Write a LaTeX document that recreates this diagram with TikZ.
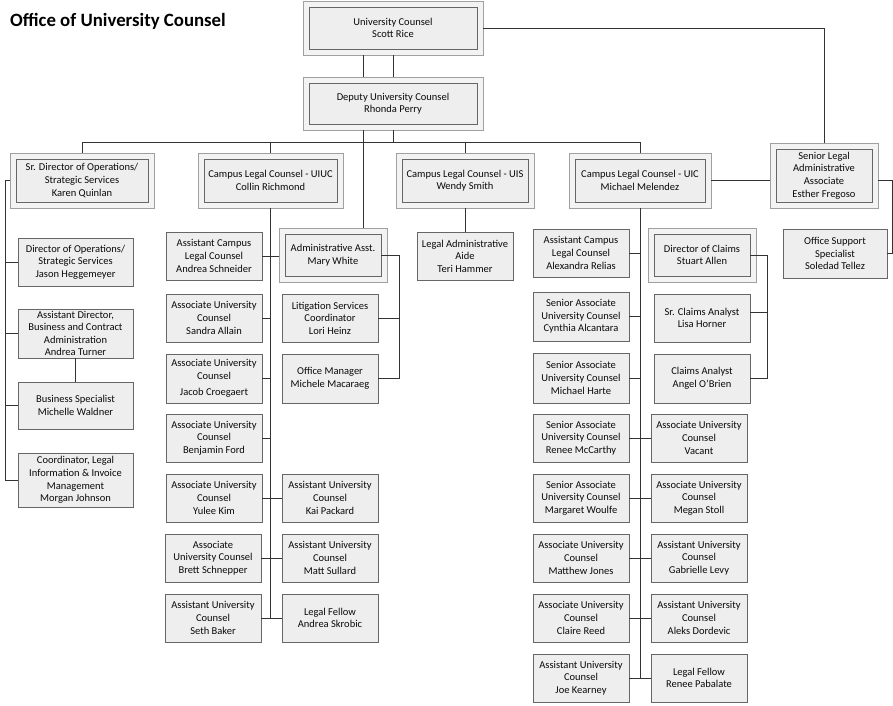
\documentclass[tikz,border=0pt]{standalone}
\usepackage{fontspec}
\setmainfont{Carlito}
\usetikzlibrary{shadows}
\definecolor{lnc}{HTML}{333333}
\definecolor{bxd}{HTML}{666666}
\definecolor{bxf}{HTML}{EEEEEE}
\definecolor{frd}{HTML}{A0A0A0}
\definecolor{frf}{HTML}{F3F3F3}
\definecolor{txc}{HTML}{0A0A0A}
\tikzset{
  conn/.style={draw=lnc, line width=1pt},
  box/.style={draw=bxd, fill=bxf, line width=0.8pt, align=center, inner sep=0pt,
    text=txc, font=\fontsize{10.5}{12.6}\selectfont,
    drop shadow={shadow xshift=1.2pt, shadow yshift=-1.2pt, opacity=0.25, fill=black}},
  frame/.style={draw=frd, fill=frf, line width=0.8pt, inner sep=0pt,
    drop shadow={shadow xshift=1.2pt, shadow yshift=-1.2pt, opacity=0.25, fill=black}},
}
\newcommand\mkbox[7][box]{%
  \pgfmathsetmacro\mybw{#5-#3}\pgfmathsetmacro\mybh{#6-#4}%
  \pgfmathsetmacro\mycx{(#3+#5)/2}\pgfmathsetmacro\mycy{(#4+#6)/2}%
  \node[#1, minimum width=\mybw pt, minimum height=\mybh pt] (#2) at (\mycx,\mycy) {#7};}
\newcommand\mkframe[5]{\mkbox[frame]{#1}{#2}{#3}{#4}{#5}{}}
\begin{document}
\begin{tikzpicture}[x=1pt,y=-1pt]
\useasboundingbox (0,0) rectangle (893,705);
\node[anchor=base west, inner sep=0pt, text=black, font=\bfseries\fontsize{18.8}{20}\selectfont] (title) at (10,26) {Office of University Counsel};

% frames
\mkframe{ucF}{303}{1}{483}{55}
\mkbox{uc}{309}{7}{477}{49}{University Counsel\\Scott Rice}
\mkframe{depF}{303}{77}{483}{130}
\mkbox{dep}{309}{83}{477}{124}{Deputy University Counsel\\Rhonda Perry}
\mkframe{sdF}{10}{153}{154}{208}
\mkbox{sd}{16}{159}{148}{202}{Sr. Director of Operations/\\Strategic Services\\Karen Quinlan}
\mkframe{uiucF}{198}{153}{343}{208}
\mkbox{uiuc}{204}{159}{337}{202}{Campus Legal Counsel - UIUC\\Collin Richmond}
\mkframe{uisF}{396}{153}{534}{208}
\mkbox{uis}{402}{159}{528}{202}{Campus Legal Counsel - UIS\\Wendy Smith}
\mkframe{uicF}{569}{153}{711}{208}
\mkbox{uic}{575}{159}{705}{202}{Campus Legal Counsel - UIC\\Michael Melendez}
\mkframe{slaF}{770}{143}{878}{208}
\mkbox{sla}{776}{149}{872}{202}{Senior Legal\\Administrative\\Associate\\Esther Fregoso}
\mkframe{aaF}{279}{228}{387}{282}
\mkbox{aa}{285}{234}{381}{276}{Administrative Asst.\\Mary White}
\mkframe{dcF}{648}{228}{756}{282}
\mkbox{dc}{654}{234}{750}{276}{Director of Claims\\Stuart Allen}

% left column
\mkbox{dop}{18}{238}{133}{286}{Director of Operations/\\Strategic Services\\Jason Heggemeyer}
\mkbox{ad}{18}{309}{133}{358}{Assistant Director,\\Business and Contract\\Administration\\Andrea Turner}
\mkbox{bs}{18}{382}{133}{429}{Business Specialist\\Michelle Waldner}
\mkbox{co}{18}{453}{133}{507}{Coordinator, Legal\\Information \& Invoice\\Management\\Morgan Johnson}

% UIUC
\mkbox{as}{166}{232}{262}{280}{Assistant Campus\\Legal Counsel\\Andrea Schneider}
\mkbox{sa}{166}{294}{262}{342}{Associate University\\Counsel\\Sandra Allain}
\mkbox{jc}{166}{354}{262}{403}{Associate University\\Counsel\\[4pt]Jacob Croegaert}
\mkbox{bf}{166}{414}{262}{462}{Associate University\\Counsel\\Benjamin Ford}
\mkbox{yk}{166}{474}{262}{522}{Associate University\\Counsel\\Yulee Kim}
\mkbox{bsch}{165}{534}{261}{582}{Associate\\University Counsel\\Brett Schnepper}
\mkbox{sb}{165}{594}{261}{642}{Assistant University\\Counsel\\Seth Baker}
\mkbox{ls}{282}{294}{378}{342}{Litigation Services\\Coordinator\\Lori Heinz}
\mkbox{om}{282}{354}{378}{403}{Office Manager\\Michele Macaraeg}
\mkbox{kp}{282}{474}{378}{522}{Assistant University\\Counsel\\Kai Packard}
\mkbox{ms}{282}{534}{378}{582}{Assistant University\\Counsel\\Matt Sullard}
\mkbox{ask}{282}{594}{378}{642}{Legal Fellow\\Andrea Skrobic}

% UIS
\mkbox{lad}{417}{232}{513}{280}{Legal Administrative\\Aide\\Teri Hammer}

% UIC
\mkbox{ar}{533}{229}{629}{277}{Assistant Campus\\Legal Counsel\\Alexandra Relias}
\mkbox{ca}{533}{292}{629}{341}{Senior Associate\\University Counsel\\Cynthia Alcantara}
\mkbox{mh}{533}{353}{629}{403}{Senior Associate\\University Counsel\\Michael Harte}
\mkbox{rm}{533}{414}{629}{462}{Senior Associate\\University Counsel\\Renee McCarthy}
\mkbox{mw}{533}{474}{629}{522}{Senior Associate\\University Counsel\\Margaret Woulfe}
\mkbox{mj}{533}{534}{629}{582}{Associate University\\Counsel\\Matthew Jones}
\mkbox{cr}{533}{594}{629}{642}{Associate University\\Counsel\\Claire Reed}
\mkbox{jk}{533}{654}{629}{702}{Assistant University\\Counsel\\Joe Kearney}
\mkbox{lh}{654}{294}{750}{342}{Sr. Claims Analyst\\Lisa Horner}
\mkbox{ao}{654}{354}{750}{403}{Claims Analyst\\Angel O’Brien}
\mkbox{va}{651}{414}{747}{462}{Associate University\\Counsel\\Vacant}
\mkbox{mst}{651}{474}{747}{522}{Associate University\\Counsel\\Megan Stoll}
\mkbox{gl}{651}{534}{747}{582}{Assistant University\\Counsel\\Gabrielle Levy}
\mkbox{adr}{651}{594}{747}{642}{Assistant University\\Counsel\\Aleks Dordevic}
\mkbox{rp}{651}{654}{747}{702}{Legal Fellow\\Renee Pabalate}

% SLA
\mkbox{oss}{783}{229}{887}{278}{Office Support\\Specialist\\Soledad Tellez}

% helper coordinates
\coordinate (c363) at (363,0);
\coordinate (c393) at (393,0);
\coordinate (bus) at (0,142);
\coordinate (sdl) at (5,0);
\coordinate (aar) at (399,0);
\coordinate (dcr) at (767,0);
\coordinate (slr) at (892,0);
\coordinate (lhs) at ([yshift=6pt]lh.east);

% connectors
\draw[conn] (ucF.south -| c363) -- (depF.north -| c363);
\draw[conn] (ucF.south -| c393) -- (depF.north -| c393);
\draw[conn] (ucF.east) -| (slaF.north);
\draw[conn] (depF.south -| c363) -- (aaF.north -| c363);
\draw[conn] (depF.south -| c393) -- (bus -| c393);
\draw[conn] (sdF.north) |- (uicF.north |- bus) -- (uicF.north);
\draw[conn] (uiucF.north) -- (uiucF.north |- bus);
\draw[conn] (uisF.north) -- (uisF.north |- bus);
\draw[conn] (uicF.east) -- (slaF.west |- uicF.east);

% left column
\draw[conn] (sdF.west) -| (sdl |- co.west) -- (co.west);
\draw[conn] (sdl |- dop.west) -- (dop.west);
\draw[conn] (sdl |- ad.west) -- (ad.west);
\draw[conn] (sdl |- bs.west) -- (bs.west);
\draw[conn] (ad.south) -- (bs.north);

% UIUC
\draw[conn] (uiucF.south) -- (uiucF.south |- sb.east);
\draw[conn] (as.east) -- (aaF.west |- as.east);
\draw[conn] (sa.east) -- (uiucF.south |- sa.east);
\draw[conn] (jc.east) -- (uiucF.south |- jc.east);
\draw[conn] (bf.east) -- (uiucF.south |- bf.east);
\draw[conn] (yk.east) -- (kp.west);
\draw[conn] (bsch.east) -- (ms.west);
\draw[conn] (sb.east) -- (ask.west);
\draw[conn] (aa.east) -| (aar |- om.east) -- (om.east);
\draw[conn] (ls.east) -- (aar |- ls.east);

% UIS
\draw[conn] (uisF.south) -- (lad.north);

% UIC
\draw[conn] (uicF.south) -- (uicF.south |- jk.east);
\draw[conn] (ar.east) -- (uicF.south |- ar.east);
\draw[conn] (ca.east) -- (uicF.south |- ca.east);
\draw[conn] (mh.east) -- (uicF.south |- mh.east);
\draw[conn] (rm.east) -- (va.west);
\draw[conn] (mw.east) -- (mst.west);
\draw[conn] (mj.east) -- (gl.west);
\draw[conn] (cr.east) -- (adr.west);
\draw[conn] (jk.east) -- (rp.west);
\draw[conn] (dc.east) -| (dcr |- ao.east) -- (ao.east);
\draw[conn] (lhs) -- (dcr |- lhs);

% SLA
\draw[conn] (slaF.east |- uicF.east) -| (slr |- oss.east) -- (oss.east);
\end{tikzpicture}
\end{document}
